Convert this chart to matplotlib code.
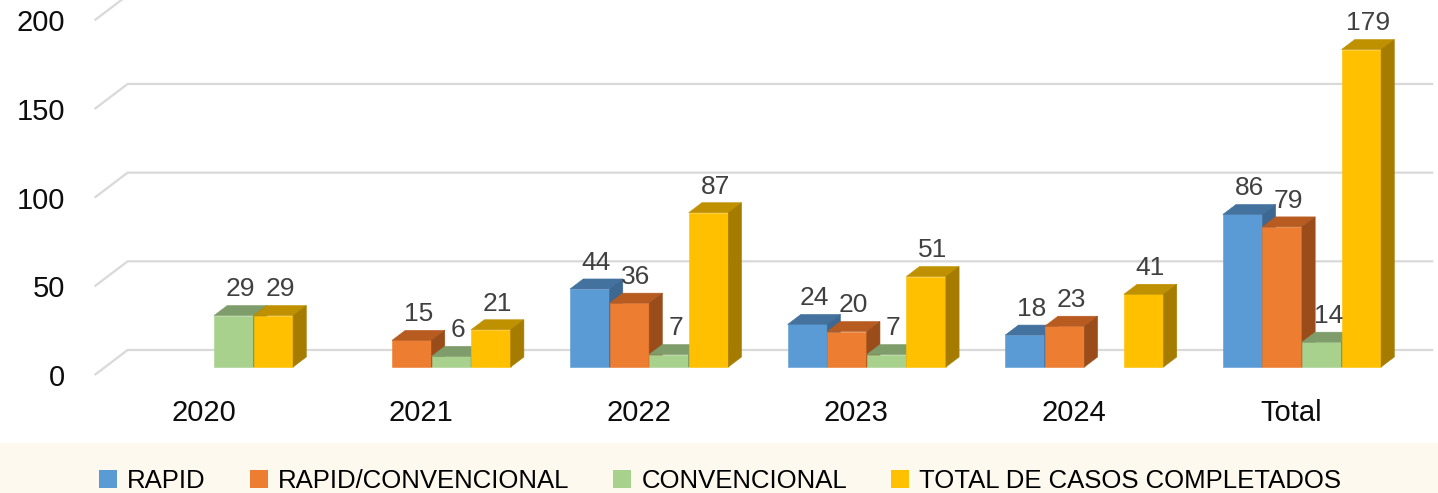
import matplotlib
matplotlib.use("Agg")
import matplotlib.pyplot as plt
from matplotlib.patches import Polygon, Patch, Rectangle

# data
categories = ['2020', '2021', '2022', '2023', '2024', 'Total']
series_names = ['RAPID', 'RAPID/CONVENCIONAL', 'CONVENCIONAL', 'TOTAL DE CASOS COMPLETADOS']
rapid = [0, 0, 44, 24, 18, 86]
rapid_conv = [0, 15, 36, 20, 23, 79]
convencional = [29, 6, 7, 7, 0, 14]
total = [29, 21, 87, 51, 41, 179]
y_ticks = [0, 50, 100, 150, 200]

series = [rapid, rapid_conv, convencional, total]
front_colors = ['#5b9bd5', '#ed7d31', '#a9d18e', '#ffc000']
top_colors = ['#44729f', '#b75b21', '#7f9d6b', '#bf9000']
side_colors = ['#3d6891', '#9a4d1b', '#6f8a5e', '#a67c00']

# oblique "3d" look: offset of the back wall in data units
DX, DY = 0.1517, 14.1
D0, D1 = 0.32, 0.72      # depth range of the bars
BAR_W = 1 / 5.5          # 4 bars + 150% gap

plt.rcParams['font.family'] = ['Liberation Sans', 'DejaVu Sans']

W, H = 1438, 493
fig = plt.figure(figsize=(W / 100, H / 100), dpi=100)
fig.add_artist(Rectangle((0, 0), 1, 50 / H, transform=fig.transFigure,
                         facecolor='#fdf9ee', edgecolor='none', zorder=0))

ax = fig.add_axes([94.6 / W, 118 / H, 1305.6 / W, 354.7 / H])
ax.set_xlim(-0.5, len(categories) - 0.5)
ax.set_ylim(0, 200)
ax.patch.set_alpha(0)
for s in ax.spines.values():
    s.set_visible(False)


def P(x, v, d):
    return (x + d * DX, v + d * DY)


# gridlines: side wall diagonal + back wall
x0, x1 = -0.5, len(categories) - 0.5
for v in y_ticks:
    ax.plot([x0, x0 + DX, x1 + DX], [v, v + DY, v + DY], color='#d9d9d9',
            lw=1.6, clip_on=False, zorder=1, solid_capstyle='butt')

# bars
for c in range(len(categories)):
    for i, vals in enumerate(series):
        v = vals[c]
        if v == 0:
            continue
        xl = c - 2 * BAR_W + i * BAR_W
        xr = xl + BAR_W
        z = 2 + c * 10 + i
        faces = [
            ([P(xl, 0, D0), P(xr, 0, D0), P(xr, v, D0), P(xl, v, D0)], front_colors[i]),
            ([P(xl, v, D0), P(xr, v, D0), P(xr, v, D1), P(xl, v, D1)], top_colors[i]),
            ([P(xr, 0, D0), P(xr, 0, D1), P(xr, v, D1), P(xr, v, D0)], side_colors[i]),
        ]
        for pts, col in faces:
            ax.add_patch(Polygon(pts, closed=True, facecolor=col, edgecolor=col,
                                 lw=0.4, clip_on=False, zorder=z))
        lx, ly = P(xl + BAR_W / 2, v, (D0 + D1) / 2)
        ax.annotate(str(v), xy=(lx, v + D1 * DY), xytext=(0, 3),
                    textcoords='offset points', ha='center', va='bottom',
                    fontsize=19, color='#404040', zorder=200, annotation_clip=False)

ax.set_xticks(range(len(categories)))
ax.set_xticklabels(categories)
ax.set_yticks(y_ticks)
ax.tick_params(axis='x', length=0, pad=17, labelsize=21, labelcolor='#0d0d0d')
ax.tick_params(axis='y', length=0, pad=21, labelsize=21, labelcolor='#0d0d0d')

handles = [Patch(facecolor=col, edgecolor='none') for col in front_colors]
fig.legend(handles, series_names, loc='center', bbox_to_anchor=(0.5007, 12 / H),
           ncol=4, frameon=False, fontsize=18.5, handlelength=0.7, handleheight=0.7,
           handletextpad=0.4, columnspacing=1.7, borderaxespad=0, borderpad=0)

fig.savefig('out.png', dpi=100)
